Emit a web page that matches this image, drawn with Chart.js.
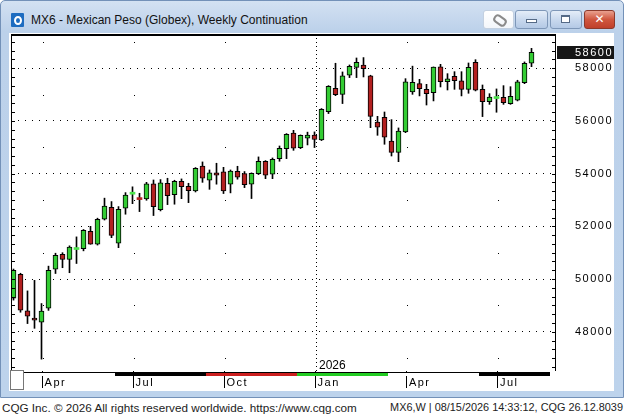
<!DOCTYPE html>
<html>
<head>
<meta charset="utf-8">
<title>MX6 - Mexican Peso (Globex), Weekly Continuation</title>
<script src="https://cdn.jsdelivr.net/npm/chart.js@4.4.1/dist/chart.umd.min.js"></script>
<style>
    html, body { margin: 0; padding: 0; }
    body { width: 624px; height: 416px; position: relative; overflow: hidden; background: #fff;
        font-family: "Liberation Sans", Arial, sans-serif; }
    .frame { position: absolute; left: 0; top: 0; width: 622px; height: 396px; border: 1px solid #7391b8;
        border-radius: 5px 5px 0 0; background: linear-gradient(#d3e1f2, #bcd1ea 30px, #bdd3ec); }
    .icon { position: absolute; left: 10px; top: 12px; width: 13px; height: 14px; background: #1d6cc0; border-radius: 1px; }
    .icon:after { content: ''; position: absolute; left: 3px; top: 3px; width: 4px; height: 5px; border: 2px solid #fff; border-radius: 50%; }
    .title { position: absolute; left: 30px; top: 12px; font-size: 12px; color: #111; white-space: nowrap; }
    .btn { position: absolute; top: 9px; height: 17px; border: 1px solid #7e97b8; border-radius: 3px;
        background: linear-gradient(#e4edf8, #c9d9ee 50%, #b4c9e5); }
    .btn.clip { left: 482px; width: 29px; background: linear-gradient(#ffffff, #f3f6fa); border-color: #c3d0e0; }
    .btn.clip:before { content: ''; position: absolute; left: 9px; top: 5px; width: 10px; height: 5px; border: 2px solid #8a8a8a;
        border-radius: 4px; transform: rotate(35deg); }
    .btn.min { left: 514px; width: 31px; }
    .btn.min:before { content: ''; position: absolute; left: 10px; top: 8px; width: 9px; height: 2px; border: 1px solid #556a86; background: #fff; }
    .btn.max { left: 549px; width: 30px; }
    .btn.max:before { content: ''; position: absolute; left: 10px; top: 4px; width: 7px; height: 5px; border: 1px solid #556a86; border-top-width: 2px; background: #fff; }
    .btn.close { left: 583px; width: 29px; border-color: #8c3a2c; background: linear-gradient(#e9a08f, #d0573f 50%, #c0402b); }
    .btn.close:before { content: '\2715'; position: absolute; left: 0; top: 0; width: 29px; line-height: 17px; text-align: center;
        color: #fff; font-weight: bold; font-size: 12px; font-family: "DejaVu Sans", sans-serif; }
    .content { position: absolute; left: 8px; top: 32px; width: 605px; height: 358px; background: #fff; }
    .corner { position: absolute; left: 10px; top: 370px; width: 12px; height: 18px; background: #fff;
        border: 1px solid #777; z-index: 2; }
    .footer { position: absolute; left: 0; top: 398px; width: 624px; height: 18px; color: #222; }
    .footer .left { position: absolute; left: 2px; top: 3px; white-space: nowrap; font-size: 11.7px; }
    .footer .right { position: absolute; right: 1px; top: 3px; white-space: nowrap; font-size: 10.9px; }
</style>
</head>
<body>
<div class="frame">
    <div class="icon"></div>
    <div class="title">MX6 - Mexican Peso (Globex), Weekly Continuation</div>
    <div class="btn clip"></div>
    <div class="btn min"></div>
    <div class="btn max"></div>
    <div class="btn close"></div>
    <div class="content"><canvas id="chart" width="605" height="358"></canvas></div>
</div>
<div class="corner"></div>
<div class="footer">
    <span class="left">CQG Inc. &copy; 2026 All rights reserved worldwide. https://www.cqg.com</span>
    <span class="right">MX6,W | 08/15/2026 14:33:12, CQG 26.12.8039</span>
</div>
<script>
    // Week ending dates, one per candle.
    var weeks = [
        '03/07/25', '03/14/25', '03/21/25', '03/28/25', '04/04/25', '04/11/25', '04/18/25', '04/25/25',
        '05/02/25', '05/09/25', '05/16/25', '05/23/25', '05/30/25', '06/06/25', '06/13/25', '06/20/25',
        '06/27/25', '07/04/25', '07/11/25', '07/18/25', '07/25/25', '08/01/25', '08/08/25', '08/15/25',
        '08/22/25', '08/29/25', '09/05/25', '09/12/25', '09/19/25', '09/26/25', '10/03/25', '10/10/25',
        '10/17/25', '10/24/25', '10/31/25', '11/07/25', '11/14/25', '11/21/25', '11/28/25', '12/05/25',
        '12/12/25', '12/19/25', '12/26/25', '01/02/26', '01/09/26', '01/16/26', '01/23/26', '01/30/26',
        '02/06/26', '02/13/26', '02/20/26', '02/27/26', '03/06/26', '03/13/26', '03/20/26', '03/27/26',
        '04/03/26', '04/10/26', '04/17/26', '04/24/26', '05/01/26', '05/08/26', '05/15/26', '05/22/26',
        '05/29/26', '06/05/26', '06/12/26', '06/19/26', '06/26/26', '07/03/26', '07/10/26', '07/17/26',
        '07/24/26', '07/31/26', '08/07/26'
    ];

    var opens = [
        49270, 50180, 48790, 48520, 48360, 48890, 50370, 50940, 50740, 51120,
        51155, 51810, 51320, 52270, 52720, 51360, 52690, 53220, 53065, 53040,
        53610, 52635, 53635, 53205, 53710, 53520, 53345, 54290, 53750, 54030,
        54065, 53600, 54090, 54000, 53600, 54000, 54470, 53980, 54570, 54950,
        55535, 54990, 55345, 55460, 55280, 56355, 57240, 57010, 57735, 58035,
        58125, 57710, 55960, 56140, 55240, 54810, 55585, 57100, 57415, 57200,
        57075, 58050, 57490, 57695, 57520, 57200, 58225, 57200, 56735, 56850,
        56900, 56660, 56785, 57455, 58190
    ];
    var highs = [
        50380, 50220, 49550, 49950, 49070, 50490, 50980, 51000, 51260, 51600,
        51880, 52000, 52310, 53070, 52940, 52750, 53280, 53500, 53255, 53670,
        53760, 53775, 53825, 53750, 53800, 53635, 54230, 54445, 54140, 54395,
        54240, 54140, 54280, 54080, 54030, 54635, 54495, 54595, 55050, 55520,
        55645, 55470, 55575, 55585, 56470, 57340, 58190, 57860, 58125, 58390,
        58405, 57735, 56175, 56340, 56050, 55735, 57605, 58080, 57580, 57390,
        58050, 58150, 57795, 57870, 57870, 58200, 58325, 57365, 57035, 57215,
        57340, 57300, 57545, 58240, 58755
    ];
    var lows = [
        49200, 48740, 48310, 48130, 46960, 48810, 50210, 50430, 50240, 50590,
        51070, 51320, 51290, 52240, 51570, 51190, 52460, 52860, 52560, 52990,
        52410, 52585, 52825, 52840, 53050, 52900, 53305, 53670, 53405, 53600,
        53245, 53270, 53790, 53470, 53055, 53965, 53810, 53810, 54470, 54570,
        54885, 54950, 55090, 54990, 55255, 56280, 56960, 56660, 57645, 57645,
        57670, 55745, 55455, 55115, 54670, 54455, 55555, 57010, 56950, 56605,
        56760, 57290, 57175, 57200, 56950, 57050, 57140, 56165, 56630, 56330,
        56630, 56630, 56760, 57415, 58060
    ];
    var closes = [
        50330, 48815, 48590, 48440, 48780, 50330, 50900, 50740, 51210, 51160,
        51850, 51320, 52270, 52770, 51660, 52650, 53190, 53250, 53015, 53610,
        52750, 53650, 53165, 53710, 53510, 53355, 54205, 53825, 54030, 53940,
        53345, 54100, 53865, 53585, 54015, 54470, 53940, 54545, 54965, 55495,
        54965, 55455, 55465, 55295, 56445, 57315, 57000, 57710, 58075, 58225,
        57985, 56175, 55760, 55380, 54810, 55620, 57480, 57470, 57225, 57035,
        58045, 57490, 57595, 57530, 57200, 58035, 57165, 56735, 56910, 56885,
        56695, 56935, 57480, 58190, 58600
    ];

    // Time axis: week positions where each labelled month starts.
    var monthTicks = [4.15, 17.15, 30.15, 43.15, 56.2, 69.2];
    var monthLabels = ['Apr', 'Jul', 'Oct', 'Jan', 'Apr', 'Jul'];
    var yearTickIndex = 3;
    var yearLabel = '2026';

    // Front contract roll points (week positions).
    var rollBreaks = [14.5, 27.5, 40.5, 53.5, 66.5];

    var priceTicks = [48000, 50000, 52000, 54000, 56000, 58000];

    var axisFont = {family: '"Liberation Sans", Arial, sans-serif', size: 11};

    var rollFill = ['#ffffff', '#000000', '#cc1f1f', '#22cc22', '#ffffff', '#000000'];

    function isDoji(i) {
        return Math.abs(closes[i] - opens[i]) < 60;
    }

    /**
     * CQG style decorations: frame, edge ticks, roll bar, year marker, last price.
     */
    var cqgPlugin = {
        id: 'cqg',
        beforeDraw: function (chart) {
            chart.ctx.letterSpacing = '1.5px';
        },
        beforeDatasetsDraw: function (chart) {
            var ctx = chart.ctx;
            var a = chart.chartArea;
            var xs = chart.scales.x;
            var ys = chart.scales.y;

            ctx.save();
            ctx.fillStyle = '#000';

            // Dotted year line.
            var jx = Math.round(xs.getPixelForValue(monthTicks[yearTickIndex]));
            for (var y = a.top; y < a.bottom; y += 4) {
                ctx.fillRect(jx, y, 1, 1);
            }

            // Sparse dots on the other month lines.
            monthTicks.forEach(function (m, i) {
                if (i === yearTickIndex) {
                    return;
                }
                var mx = Math.round(xs.getPixelForValue(m));
                for (var v = 47000; v < ys.max; v += 2000) {
                    ctx.fillRect(mx, Math.round(ys.getPixelForValue(v)), 1, 1);
                }
            });

            ctx.letterSpacing = '0px';
            ctx.font = '12px "Liberation Sans", Arial, sans-serif';
            ctx.textAlign = 'left';
            ctx.textBaseline = 'alphabetic';
            ctx.fillText(yearLabel, jx + 3, a.bottom - 2);
            ctx.restore();
        },
        afterDraw: function (chart) {
            var ctx = chart.ctx;
            var a = chart.chartArea;
            var xs = chart.scales.x;
            var ys = chart.scales.y;

            ctx.save();
            ctx.fillStyle = '#000';

            // Plot frame.
            ctx.fillRect(a.left, a.top, a.right - a.left, 2);
            ctx.fillRect(a.left, a.top, 1, a.bottom - a.top);
            ctx.fillRect(a.right - 1, a.top, 1, a.bottom - a.top);

            // Small price ticks on both edges, every third of a thousand.
            var kMin = Math.ceil((ys.min - 58000) * 3 / 1000);
            var kMax = Math.floor((ys.max - 58000) * 3 / 1000);
            for (var k = kMin; k <= kMax; k++) {
                var py = Math.round(ys.getPixelForValue(58000 + k * 1000 / 3));
                ctx.fillRect(a.left, py, 4, 1);
                ctx.fillRect(a.right - 4, py, 4, 1);
            }

            // Contract roll bar under the plot.
            var barEnd = a.right - 6;
            var edges = [a.left];
            rollBreaks.forEach(function (b) {
                edges.push(Math.round(xs.getPixelForValue(b)));
            });
            edges.push(barEnd);
            for (var i = 0; i < edges.length - 1; i++) {
                ctx.fillStyle = rollFill[i];
                ctx.fillRect(edges[i], a.bottom + 1, edges[i + 1] - edges[i], 4);
            }
            ctx.fillStyle = '#000';
            ctx.fillRect(a.left, a.bottom + 1, barEnd - a.left, 1);

            // Last price box.
            var last = closes[closes.length - 1];
            var ly = Math.round(ys.getPixelForValue(last));
            ctx.fillStyle = '#161616';
            ctx.fillRect(a.right + 1, ly - 6, 57, 13);
            ctx.fillStyle = '#fff';
            ctx.font = '11px "Liberation Sans", Arial, sans-serif';
            ctx.letterSpacing = '1.5px';
            ctx.textAlign = 'right';
            ctx.textBaseline = 'middle';
            ctx.fillText(String(last), ys.right, ly + 0.5);
            ctx.restore();
        }
    };

    var wickData = weeks.map(function (w, i) {
        return {x: i, y: [lows[i], highs[i]]};
    });
    var bodyData = weeks.map(function (w, i) {
        return {x: i, y: [opens[i], closes[i]]};
    });

    new Chart(document.getElementById('chart'), {
        type: 'bar',
        data: {
            datasets: [
                {
                    label: 'Range',
                    data: wickData,
                    backgroundColor: '#000',
                    barThickness: 1,
                    grouped: false,
                    order: 2
                },
                {
                    label: 'MX6',
                    data: bodyData,
                    backgroundColor: function (c) {
                        var i = c.dataIndex;
                        if (isDoji(i)) {
                            return closes[i] >= opens[i] ? '#4de34d' : '#b52222';
                        }
                        return closes[i] >= opens[i] ? '#33cc33' : '#b32020';
                    },
                    borderColor: '#000',
                    borderWidth: function (c) {
                        return isDoji(c.dataIndex) ? 0 : 1;
                    },
                    borderSkipped: false,
                    barThickness: 5,
                    minBarLength: 2,
                    grouped: false,
                    order: 1
                }
            ]
        },
        options: {
            responsive: false,
            animation: false,
            events: [],
            layout: {padding: {left: 2, top: 1, right: 1, bottom: 0}},
            plugins: {
                legend: {display: false},
                tooltip: {enabled: false}
            },
            scales: {
                x: {
                    type: 'linear',
                    offset: false,
                    min: -0.357,
                    max: 77.5,
                    afterBuildTicks: function (s) {
                        s.ticks = monthTicks.map(function (v) {
                            return {value: v};
                        });
                    },
                    afterFit: function (s) {
                        s.height = 20;
                        s.paddingLeft = 0;
                        s.paddingRight = 0;
                    },
                    ticks: {
                        autoSkip: false,
                        maxRotation: 0,
                        align: 'start',
                        labelOffset: 2,
                        padding: -12,
                        color: '#000',
                        font: axisFont,
                        callback: function (v, i) {
                            return monthLabels[i];
                        }
                    },
                    grid: {
                        offset: false,
                        drawOnChartArea: false,
                        drawTicks: true,
                        tickLength: 17,
                        color: '#000'
                    },
                    border: {display: false}
                },
                y: {
                    position: 'right',
                    min: 46510,
                    max: 59300,
                    afterBuildTicks: function (s) {
                        s.ticks = priceTicks.map(function (v) {
                            return {value: v};
                        });
                    },
                    afterFit: function (s) {
                        s.width = 57;
                        s.paddingTop = 0;
                        s.paddingBottom = 0;
                    },
                    ticks: {
                        crossAlign: 'far',
                        padding: 0,
                        color: '#000',
                        font: axisFont,
                        callback: function (v) {
                            return String(v);
                        }
                    },
                    grid: {
                        drawTicks: false,
                        color: '#000'
                    },
                    border: {display: false, dash: [1, 6]}
                }
            }
        },
        plugins: [cqgPlugin]
    });
</script>
</body>
</html>
